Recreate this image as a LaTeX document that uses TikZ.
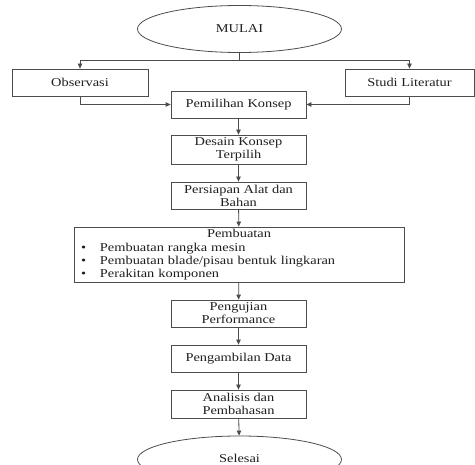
\documentclass[tikz,border=0pt]{standalone}
\usepackage{fontspec}
\setmainfont{Liberation Serif}[FakeStretch=1.2]
\usepackage{tikz}
\usetikzlibrary{arrows.meta}
\usetikzlibrary{shapes.geometric}
\definecolor{garis}{gray}{0.3}
\definecolor{tulisan}{gray}{0.12}
\tikzset{
  kotak/.style={draw=garis, line width=0.8pt, rectangle, inner sep=0pt,
    minimum height=27pt, text=tulisan, align=center,
    font=\fontsize{12}{13}\selectfont},
  oval/.style={draw=garis, line width=0.8pt, ellipse, inner sep=0pt,
    minimum width=204pt, minimum height=47pt, text=tulisan,
    font=\fontsize{12}{13}\selectfont}
}

\begin{document}
\begin{tikzpicture}[x=1pt,y=-1pt,
% arrow heads for all connectors
-{Triangle[length=5pt,width=4.5pt]},line width=0.8pt,draw=garis]

\clip (0,0) rectangle (475,465);

\node[oval] (mulai) at (239.5,29) {MULAI};
\node[kotak,minimum width=136pt] (obs) at (80,82.5) {Observasi};
\node[kotak,minimum width=129pt] (studi) at (409.5,82.5) {Studi Literatur};
\node[kotak,minimum width=135pt] (pilih) at (238.5,104.5) {Pemilihan Konsep};
\node[kotak,minimum width=135pt,minimum height=29pt] (desain) at (238.5,149.5)
  {Desain Konsep\\Terpilih};
\node[kotak,minimum width=135pt] (siap) at (238.5,195.5)
  {Persiapan Alat dan\\Bahan};
\node[kotak,minimum width=330pt,minimum height=55pt,align=left,
  text width=316pt,inner xsep=7pt] (buat) at (239,254.5)
  {\makebox[316pt]{Pembuatan}\\[1.5pt]
   \makebox[19pt][l]{\textbullet}Pembuatan rangka mesin\\
   \makebox[19pt][l]{\textbullet}Pembuatan blade/pisau bentuk lingkaran\\
   \makebox[19pt][l]{\textbullet}Perakitan komponen};
\node[kotak,minimum width=135pt] (uji) at (238.5,313.5)
  {Pengujian\\Performance};
\node[kotak,minimum width=135pt] (ambil) at (238.5,358.5) {Pengambilan Data};
\node[kotak,minimum width=135pt,minimum height=28pt] (analisis) at (238.5,404)
  {Analisis dan\\Pembahasan};
\node[oval] (selesai) at (239.5,459.5) {\raisebox{3pt}{Selesai}};

% percabangan dari mulai
\coordinate (cabang) at (239.5,60);
\draw[-] (mulai) -- (cabang);
\draw (cabang) -| (obs);
\draw (cabang) -| (studi);
\draw (obs.south) |- (pilih.west);
\draw (studi.south) |- (pilih.east);

% alur utama
\foreach \a/\b in {pilih/desain,desain/siap,siap/buat,buat/uji,uji/ambil,
  ambil/analisis,analisis/selesai} {
  \draw (\a) -- (\b);
}
\end{tikzpicture}
\end{document}
